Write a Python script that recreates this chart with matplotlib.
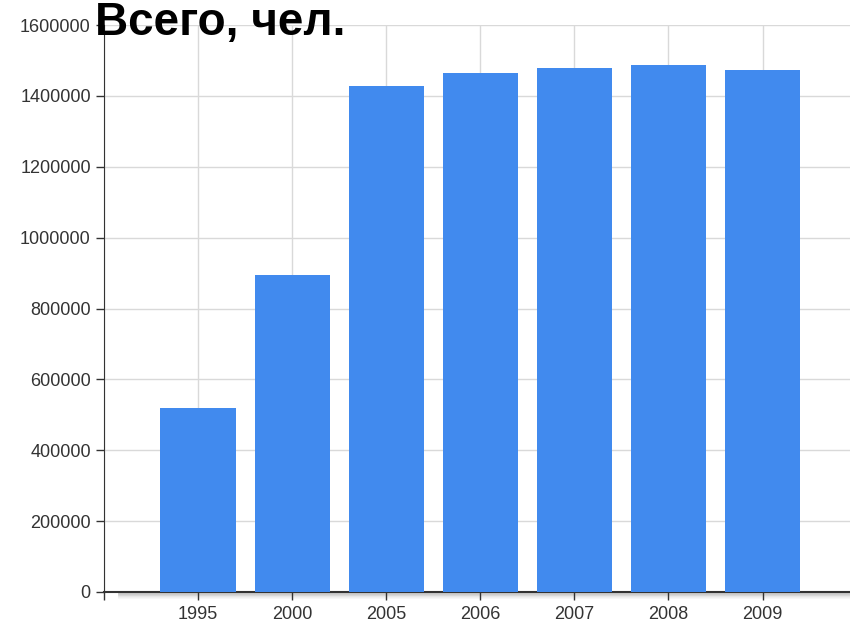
import matplotlib
matplotlib.use('Agg')
import matplotlib.pyplot as plt
import numpy as np

# data
years = ['1995', '2000', '2005', '2006', '2007', '2008', '2009']
people = [519000, 894000, 1428000, 1464000, 1479000, 1487000, 1473000]
y_ticks = [0, 200000, 400000, 600000, 800000, 1000000, 1200000, 1400000, 1600000]

plt.rcParams['font.family'] = ['Liberation Sans Narrow', 'Liberation Sans', 'DejaVu Sans']

fig = plt.figure(figsize=(8.5, 6.29), dpi=100)
ax = fig.add_axes([104 / 850, 37 / 629, (850 - 104) / 850, (592 - 25) / 629])

x = np.arange(len(years))
ax.bar(x, people, width=0.8, color='#418AEE', zorder=3)

ax.set_xlim(-1, 6.93)
ax.set_ylim(0, 1600000)
ax.set_xticks([-1] + list(x))
ax.set_xticklabels([''] + years)
ax.set_yticks(y_ticks)
ax.set_yticklabels([str(v) for v in y_ticks])

ax.grid(True, color='#d9d9d9', linewidth=1, zorder=0)
for side in ['top', 'right']:
    ax.spines[side].set_visible(False)
ax.spines['left'].set_color('#333333')
ax.spines['bottom'].set_color('#333333')
ax.spines['bottom'].set_linewidth(1.5)
ax.tick_params(axis='both', direction='out', length=6, width=1, colors='#333333',
               labelsize=13, labelcolor='#333333')
ax.tick_params(axis='x', pad=4)

# soft shadow below the x axis
for i in range(8):
    ax.axhline(-i * 2200, color='#888888', alpha=0.18 * (1 - i / 8), linewidth=2,
               xmin=0.02, clip_on=False, zorder=1)

fig.text(0.112, 0.999, 'Всего, чел.', fontsize=33, fontweight='bold',
         family=['Liberation Sans', 'DejaVu Sans'], ha='left', va='top')

fig.savefig('out.png', dpi=100)
